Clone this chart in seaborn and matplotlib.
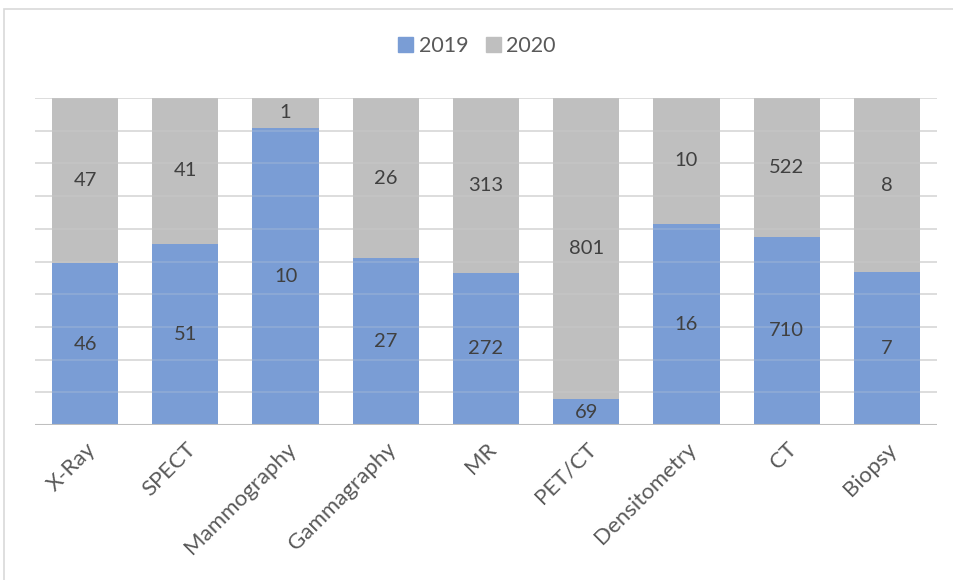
import matplotlib
matplotlib.use("Agg")
import matplotlib.pyplot as plt
import matplotlib.patches as mpatches
import numpy as np
import pandas as pd
import seaborn as sns

# Exam counts per modality
modalities = ["X-Ray", "SPECT", "Mammography", "Gammagraphy", "MR",
              "PET/CT", "Densitometry", "CT", "Biopsy"]
count_2019 = [46, 51, 10, 27, 272, 69, 16, 710, 7]
count_2020 = [47, 41, 1, 26, 313, 801, 10, 522, 8]

c2019 = np.array(count_2019, dtype=float)
c2020 = np.array(count_2020, dtype=float)
total = c2019 + c2020
share_2019 = 100 * c2019 / total
df = pd.DataFrame({"modality": modalities,
                   "s2019": share_2019,
                   "full": np.full(len(modalities), 100.0)})

BLUE = "#7A9DD5"
GRAY = "#BFBFBF"
TEXT = "#404040"
AXTEXT = "#595959"

sns.set_theme(style="white")
plt.rcParams["font.family"] = ["Lato", "DejaVu Sans"]

fig = plt.figure(figsize=(9.54, 5.8), dpi=100)
W, H = 954, 580
ax = fig.add_axes([35 / W, (H - 425) / H, (937 - 35) / W, (425 - 98) / H])

# chart frame
fig.patches.append(mpatches.Rectangle((4 / W, -0.05), 1.1, (H - 9) / H + 0.05,
                                      transform=fig.transFigure, fill=False,
                                      edgecolor="#D9D9D9", linewidth=1.2))

sns.barplot(data=df, x="modality", y="full", color=GRAY, width=0.66,
            saturation=1, linewidth=0, ax=ax, zorder=2)
sns.barplot(data=df, x="modality", y="s2019", color=BLUE, width=0.66,
            saturation=1, linewidth=0, ax=ax, zorder=3)

for i in range(len(modalities)):
    s = share_2019[i]
    ax.text(i, s / 2, str(count_2019[i]), ha="center", va="center",
            fontsize=14.5, color=TEXT, zorder=5)
    ax.text(i, s + (100 - s) / 2, str(count_2020[i]), ha="center",
            va="center", fontsize=14.5, color=TEXT, zorder=5)

for g in range(10, 101, 10):
    ax.axhline(g, color="#D9D9D9", linewidth=1.2, zorder=1)
    ax.axhline(g, color="#D9D9D9", linewidth=1.2, alpha=0.22, zorder=4)
ax.axhline(0, color="#BFBFBF", linewidth=1.5, zorder=6)

ax.set_ylim(0, 100)
ax.set_xlim(-0.5, len(modalities) - 0.5)
ax.set_xlabel("")
ax.set_ylabel("")
ax.set_yticks([])
ax.tick_params(axis="x", length=0, pad=10)
ax.set_xticks(range(len(modalities)))
ax.set_xticklabels(modalities, rotation=45, ha="right",
                   rotation_mode="anchor", fontsize=16, color=AXTEXT)
for sp in ax.spines.values():
    sp.set_visible(False)

handles = [mpatches.Patch(color=BLUE, label="2019"),
           mpatches.Patch(color=GRAY, label="2020")]
fig.legend(handles=handles, loc="center", bbox_to_anchor=(0.5, (H - 46) / H),
           ncol=2, frameon=False, fontsize=15.5, handlelength=0.7,
           handleheight=0.7, handletextpad=0.25, columnspacing=0.8,
           labelcolor=AXTEXT)

fig.savefig("out.png", dpi=100)
